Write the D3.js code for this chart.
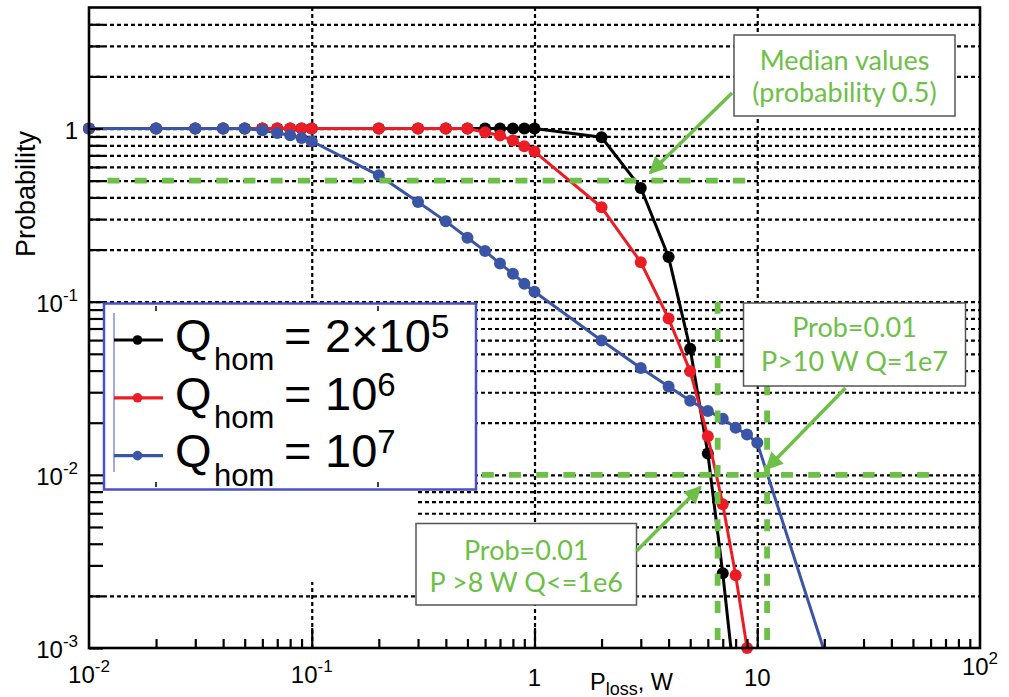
<!DOCTYPE html>
<html>
<head>
<meta charset="utf-8">
<script src="https://cdn.jsdelivr.net/npm/d3@7/dist/d3.min.js"></script>
<style>
  body { margin: 0; background: #fff; }
  svg { display: block; }
  .gridLines line { stroke: #000; stroke-width: 2.2; stroke-dasharray: 4,3; }
  .ticks line { stroke: #000; stroke-width: 2.2; }
  .axisText { font-family: "Liberation Sans", Arial, sans-serif; fill: #000; }
  .noteText { font-family: Lato, "Open Sans", sans-serif; fill: #6dbf47; text-anchor: middle; }
</style>
</head>
<body>
<script>
(function(){

//pseudo-global variables: values
//Q_hom = 2x10^5 (black)
var plossBlack = [0.01,0.02,0.03,0.04,0.05,0.06,0.07,0.08,0.09,0.1,0.2,0.3,0.4,0.5,0.6,0.7,0.8,0.9,1,2,3,4,5,6,7,8];
var probBlack  = [1,1,1,1,1,1,1,1,1,1,1,1,1,1,1,1,1,1,1,0.891,0.454,0.181,0.0534,0.0133,0.0027,0.00056];

//Q_hom = 10^6 (red)
var plossRed = [0.01,0.02,0.03,0.04,0.05,0.06,0.07,0.08,0.09,0.1,0.2,0.3,0.4,0.5,0.6,0.7,0.8,0.9,1,2,3,4,5,6,7,8,9];
var probRed  = [1,1,1,1,1,1,1,1,1,1,1,1,1,1,0.952,0.911,0.853,0.791,0.736,0.351,0.169,0.0799,0.0396,0.0167,0.00676,0.00263,0.001];

//Q_hom = 10^7 (blue)
var plossBlue = [0.01,0.02,0.03,0.04,0.05,0.06,0.07,0.08,0.09,0.1,0.2,0.3,0.4,0.5,0.6,0.7,0.8,0.9,1,2,3,4,5,6,7,8,9,10,30];
var probBlue  = [1,1,1,1,1,0.976,0.942,0.914,0.881,0.844,0.537,0.377,0.291,0.234,0.196,0.166,0.145,0.127,0.114,0.0597,0.0414,0.0324,0.0268,0.0234,0.0211,0.0187,0.0171,0.0153,0.00019];

//legend entries
var legendBase = ["2\u00d710", "10", "10"];
var legendExp  = ["5", "6", "7"];

//tick labels
var xTickVals = [0.01, 0.1, 1, 10, 100];
var xTickBase = ["10", "10", "1", "10", "10"];
var xTickExp  = ["-2", "-1", "", "", "2"];
var yTickVals = [0.001, 0.01, 0.1, 1];
var yTickBase = ["10", "10", "10", "1"];
var yTickExp  = ["-3", "-2", "-1", ""];

//green reference lines (probability levels and power levels)
var refProb     = [0.5, 0.01];
var refProbFrom = [0.0121, 0.58];
var refProbTo   = [9.4, 62];
var refPloss     = [6.64, 11.07];
var refPlossTop  = [0.1, 0.1];
var refPlossBot  = [0.001, 0.001];

//begin script when window loads
window.onload = setChart();

function setChart(){

    //frame dimensions
    var width = 1009,
        height = 697;

    var left = 89, right = 980, top = 7.5, bottom = 648;

    var svg = d3.select("body")
        .append("svg")
        .attr("width", width)
        .attr("height", height);

    //log scales
    var x = d3.scaleLog().domain([0.01, 100]).range([left, right]);
    var y = d3.scaleLog().domain([0.001, 5]).range([bottom, top]);

    svg.append("defs").append("clipPath")
        .attr("id", "plotClip")
        .append("rect")
        .attr("x", left).attr("y", top)
        .attr("width", right - left).attr("height", bottom - top);

    setGrid(svg, x, y, left, right, top, bottom);

    //white patch hiding the grid in the lower left (as in the picture)
    svg.append("rect")
        .attr("x", left).attr("y", 304)
        .attr("width", 417 - left).attr("height", 582 - 304)
        .attr("fill", "#fff");

    //series, drawn in legend order
    var series = [
        {xs: plossBlack, ps: probBlack, color: "#000000"},
        {xs: plossRed,   ps: probRed,   color: "#ec1c24"},
        {xs: plossBlue,  ps: probBlue,  color: "#3a55a6"}
    ];

    var line = d3.line()
        .x(function(d){ return x(d.x); })
        .y(function(d){ return y(d.p); });

    series.forEach(function(s){
        var pts = s.xs.map(function(v, i){ return {x: v, p: s.ps[i]}; });
        svg.append("path")
            .datum(pts)
            .attr("d", line)
            .attr("clip-path", "url(#plotClip)")
            .attr("fill", "none")
            .attr("stroke", s.color)
            .attr("stroke-width", 3)
            .attr("stroke-linejoin", "round");
        svg.append("g").selectAll("circle")
            .data(pts.filter(function(d){ return d.p >= 0.001 && d.x <= 100; }))
            .enter()
            .append("circle")
            .attr("cx", function(d){ return x(d.x); })
            .attr("cy", function(d){ return y(d.p); })
            .attr("r", 6)
            .attr("fill", s.color);
    });

    setRefLines(svg, x, y);
    setAxes(svg, x, y, left, right, top, bottom);
    setLegend(svg, series);
    setNotes(svg);
};

function setGrid(svg, x, y, left, right, top, bottom){
    //horizontal dotted lines at every 1..9 step
    var yGridVals = y.ticks().filter(function(v){ return v > 0.001 && v < 5; });
    svg.append("g")
        .attr("class", "gridLines")
        .attr("transform", "translate(" + left + ",0)")
        .call(d3.axisLeft(y).tickValues(yGridVals).tickSize(-(right - left)).tickFormat(""))
        .call(function(g){ g.select(".domain").remove(); });

    //vertical dotted lines at the decades
    svg.append("g")
        .attr("class", "gridLines")
        .attr("transform", "translate(0," + bottom + ")")
        .call(d3.axisBottom(x).tickValues([0.1, 1, 10]).tickSize(-(bottom - top)).tickFormat(""))
        .call(function(g){ g.select(".domain").remove(); });
};

function setRefLines(svg, x, y){
    var green = "#6dbf47";
    refProb.forEach(function(p, i){
        svg.append("line")
            .attr("x1", x(refProbFrom[i])).attr("x2", x(refProbTo[i]))
            .attr("y1", y(p)).attr("y2", y(p))
            .attr("stroke", green).attr("stroke-width", 5.8)
            .attr("stroke-dasharray", "12,15.2");
    });
    refPloss.forEach(function(v, i){
        svg.append("line")
            .attr("x1", x(v)).attr("x2", x(v))
            .attr("y1", y(refPlossTop[i])).attr("y2", y(refPlossBot[i]))
            .attr("stroke", green).attr("stroke-width", 5.8)
            .attr("stroke-dasharray", "12,15.2");
    });
};

function setAxes(svg, x, y, left, right, top, bottom){
    //y ticks pointing inwards
    svg.append("g")
        .attr("class", "ticks")
        .attr("transform", "translate(" + left + ",0)")
        .call(d3.axisLeft(y).tickValues(y.ticks().filter(function(v){ return v < 5; })).tickSize(-14).tickFormat(""))
        .call(function(g){ g.select(".domain").remove(); });

    //x minor and major ticks
    var xMinor = x.ticks().filter(function(v){ return xTickVals.indexOf(v) < 0; });
    svg.append("g")
        .attr("class", "ticks")
        .attr("transform", "translate(0," + bottom + ")")
        .call(d3.axisBottom(x).tickValues(xMinor).tickSize(-9).tickFormat(""))
        .call(function(g){ g.select(".domain").remove(); });
    svg.append("g")
        .attr("class", "ticks")
        .attr("transform", "translate(0," + bottom + ")")
        .call(d3.axisBottom(x).tickValues([0.1, 1, 10]).tickSize(-20).tickFormat(""))
        .call(function(g){ g.select(".domain").remove(); });

    //frame
    svg.append("rect")
        .attr("x", left).attr("y", top)
        .attr("width", right - left).attr("height", bottom - top)
        .attr("fill", "none")
        .attr("stroke", "#000")
        .attr("stroke-width", 2.6);

    //tick labels with superscripts
    var xLabelDy = [35, 35, 38, 38, 27];
    xTickVals.forEach(function(v, i){
        var t = svg.append("text")
            .attr("class", "axisText")
            .attr("x", x(v))
            .attr("y", bottom + xLabelDy[i])
            .attr("text-anchor", "middle")
            .style("font-size", "24px");
        t.append("tspan").text(xTickBase[i]);
        if (xTickExp[i]) t.append("tspan").attr("dy", -11).style("font-size", "17px").text(xTickExp[i]);
    });
    yTickVals.forEach(function(v, i){
        var t = svg.append("text")
            .attr("class", "axisText")
            .attr("x", 78)
            .attr("y", y(v) + 10)
            .attr("text-anchor", "end")
            .style("font-size", "24px");
        t.append("tspan").text(yTickBase[i]);
        if (yTickExp[i]) t.append("tspan").attr("dy", -11).style("font-size", "17px").text(yTickExp[i]);
    });

    //axis titles
    var xt = svg.append("text")
        .attr("class", "axisText")
        .attr("x", 590)
        .attr("y", 689.5)
        .style("font-size", "23.5px");
    xt.append("tspan").text("P");
    xt.append("tspan").attr("dy", 5).style("font-size", "18px").text("loss");
    xt.append("tspan").attr("dy", -5).text(", W");

    svg.append("text")
        .attr("class", "axisText")
        .attr("transform", "translate(35,194) rotate(-90)")
        .attr("text-anchor", "middle")
        .style("font-size", "27px")
        .text("Probability");
};

function setLegend(svg, series){
    var lg = svg.append("g").attr("class", "legend");

    lg.append("rect")
        .attr("x", 104).attr("y", 303.5)
        .attr("width", 372).attr("height", 186)
        .attr("fill", "#fff")
        .attr("stroke", "#4a50c8")
        .attr("stroke-width", 2.5);

    //stray ticks and thin line left inside the legend box
    [156, 378].forEach(function(tx){
        lg.append("line").attr("x1", tx).attr("x2", tx).attr("y1", 306).attr("y2", 311)
            .attr("stroke", "#000").attr("stroke-width", 1.5);
        lg.append("line").attr("x1", tx).attr("x2", tx).attr("y1", 482).attr("y2", 487)
            .attr("stroke", "#000").attr("stroke-width", 1.5);
    });
    lg.append("line").attr("x1", 114).attr("x2", 114).attr("y1", 313).attr("y2", 472)
        .attr("stroke", "#4a50c8").attr("stroke-width", 1);

    series.forEach(function(s, i){
        var ly = 340 + i * 57.8;
        var by = 351.7 + i * 57.8;
        lg.append("line")
            .attr("x1", 114).attr("x2", 163)
            .attr("y1", ly).attr("y2", ly)
            .attr("stroke", s.color).attr("stroke-width", 3.2);
        lg.append("circle")
            .attr("cx", 137.5).attr("cy", ly).attr("r", 4.8)
            .attr("fill", s.color);

        lg.append("text").attr("class", "axisText")
            .attr("x", 175).attr("y", by)
            .style("font-size", "47px").text("Q");
        lg.append("text").attr("class", "axisText")
            .attr("x", 214).attr("y", by + 18.3)
            .style("font-size", "31px").text("hom");
        lg.append("text").attr("class", "axisText")
            .attr("x", 284).attr("y", by)
            .style("font-size", "47px").text("=");
        var t = lg.append("text").attr("class", "axisText")
            .attr("x", 325).attr("y", by)
            .style("font-size", "47px");
        t.append("tspan").text(legendBase[i]);
        t.append("tspan").attr("dy", -14).style("font-size", "33px").text(legendExp[i]);
    });
};

function setNotes(svg){
    var green = "#6dbf47";

    var notes = [
        {x: 734, y: 35, w: 221, h: 81, lines: ["Median values", "(probability 0.5)"], base: [69.5, 101.5]},
        {x: 743.5, y: 303, w: 222, h: 83, lines: ["Prob=0.01", "P>10 W Q=1e7"], base: [337, 371]},
        {x: 416, y: 523.5, w: 220.5, h: 81.5, lines: ["Prob=0.01", "P >8 W Q<=1e6"], base: [559.5, 591.5]}
    ];

    notes.forEach(function(n){
        svg.append("rect")
            .attr("x", n.x).attr("y", n.y)
            .attr("width", n.w).attr("height", n.h)
            .attr("fill", "#fff")
            .attr("stroke", "#555")
            .attr("stroke-width", 1.5);
        n.lines.forEach(function(s, i){
            svg.append("text")
                .attr("class", "noteText")
                .attr("x", n.x + n.w / 2)
                .attr("y", n.base[i])
                .style("font-size", "27px")
                .text(s);
        });
    });

    //arrows from the notes to the crossings
    svg.append("defs").append("marker")
        .attr("id", "arrowHead")
        .attr("viewBox", "0 0 10 10")
        .attr("refX", 9).attr("refY", 5)
        .attr("markerWidth", 5.5).attr("markerHeight", 5)
        .attr("markerUnits", "strokeWidth")
        .attr("orient", "auto")
        .append("path")
        .attr("d", "M0,0 L10,5 L0,10 z")
        .attr("fill", green);

    var arrows = [
        [732, 93, 650, 173],
        [845.5, 388, 766.5, 469],
        [636.5, 551, 700.5, 487]
    ];
    arrows.forEach(function(a){
        svg.append("line")
            .attr("x1", a[0]).attr("y1", a[1])
            .attr("x2", a[2]).attr("y2", a[3])
            .attr("stroke", green)
            .attr("stroke-width", 3.5)
            .attr("marker-end", "url(#arrowHead)");
    });
};

})();
</script>
</body>
</html>
